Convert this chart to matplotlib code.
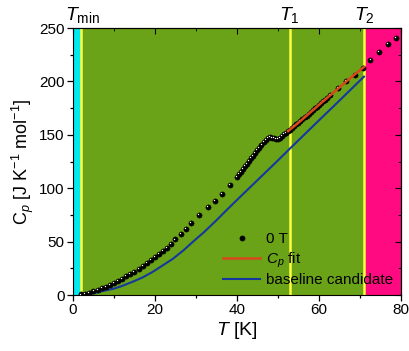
import numpy as np
import matplotlib.pyplot as plt
from matplotlib.transforms import ScaledTranslation, blended_transform_factory

plt.rcParams['font.family'] = ['Liberation Sans', 'DejaVu Sans']
plt.rcParams['mathtext.fontset'] = 'custom'
plt.rcParams['mathtext.rm'] = 'Liberation Sans'
plt.rcParams['mathtext.it'] = 'Liberation Sans:italic'

# measured heat capacity, 0 T
T_data = [2, 3, 4, 5, 6, 7, 8, 9, 10, 11, 12, 13, 14, 15, 16, 17, 18, 19, 20,
          21, 22, 23, 24, 25, 26.3, 27.6, 28.8, 30.8, 32.9, 34.6, 36.4, 38.4,
          40.0, 40.5, 41.0, 41.5, 42.0, 42.5, 43.0, 43.5, 44.0, 44.5, 45.0,
          45.5, 46.0, 46.5, 47.0, 47.5, 48.0, 48.5, 49.0, 49.5, 50.0, 50.5,
          51.0, 51.5, 52.0, 52.5, 53.0, 53.5, 54.0, 54.5, 55.0, 55.5, 56.0,
          56.5, 57.0, 57.5, 58.0, 58.5, 59.0, 59.5, 60.0, 60.5, 61.0, 61.5,
          62.0, 62.7, 64.7, 66.7, 68.7, 70.7, 72.6, 74.7, 76.8, 78.8]
Cp_data = [0.5, 1.0, 2.3, 3.5, 5.0, 6.5, 7.8, 9.8, 11.5, 13.5, 15.4, 17.5,
           19.6, 22.0, 24.3, 27.0, 29.8, 32.8, 35.5, 38.5, 41.5, 44.5, 48.0,
           52.0, 57.0, 62.0, 67.5, 74.5, 82.0, 88.0, 95.0, 103.0,
           110.5, 113.0, 115.5, 118.0, 120.5, 123.0, 125.5, 128.0, 130.5,
           133.0, 135.5, 138.0, 140.5, 143.0, 145.5, 147.0, 147.8, 147.5,
           146.8, 146.3, 146.5, 147.5, 149.0, 150.5, 152.0, 153.5, 155.0,
           156.5, 158.0, 159.7, 161.3, 163.0, 164.7, 166.3, 168.0, 169.7,
           171.3, 173.0, 174.7, 176.3, 178.0, 179.7, 181.3, 183.0, 184.7,
           187.0, 193.5, 200.0, 206.5, 213.0, 220.5, 227.8, 234.7, 241.0]

# fit between T1 and T2
T_fit = [52.5, 55, 58, 61, 64, 67, 70, 71]
Cp_fit = [153.5, 161.3, 171.3, 181.3, 191.0, 201.0, 210.5, 213.5]

# baseline candidate
T_base = [2, 4, 5, 7, 10, 12, 14.6, 17, 19.5, 22, 24.4, 27, 29.3, 32, 35,
          37.5, 40, 45, 50, 52.9, 60, 65, 71]
Cp_base = [0.2, 1.0, 1.5, 3.5, 6.0, 8.5, 12.5, 16.5, 21.8, 28.0, 34.0, 42.0,
           50.0, 59.0, 70.0, 79.6, 89.0, 107.5, 126.0, 137.0, 163.5, 182.0,
           204.5]

T_min, T1, T2 = 1.9, 52.9, 71.0
xmax, ymax = 80, 250

fig = plt.figure(figsize=(4.09, 3.51), dpi=100)
ax = fig.add_axes([0.1785, 0.1595, 0.8015, 0.7605])

ax.axvspan(0, T_min, color='#00e8f0', lw=0, zorder=0)
ax.axvspan(T_min, T2, color='#6aa317', lw=0, zorder=0)
ax.axvspan(T2, xmax, color='#ff0a80', lw=0, zorder=0)
for t in (T_min, T1, T2):
    ax.axvline(t, color='#ffff40', lw=1.8, zorder=1)

base, = ax.plot(T_base, Cp_base, color='#14389e', lw=1.5, zorder=2)
pts, = ax.plot(T_data, Cp_data, 'o', color='black', ms=3.8, mec='black',
               mew=0.3, zorder=3)
# white highlight on the spheres
shift = ScaledTranslation(-0.7 / 72, 0.7 / 72, fig.dpi_scale_trans)
ax.plot(T_data, Cp_data, 'o', color='white', ms=1.0, mew=0, zorder=4,
        transform=ax.transData + shift)
fit, = ax.plot(T_fit, Cp_fit, color='#d8481c', lw=1.8, zorder=5)

ax.set_xlim(0, xmax)
ax.set_ylim(0, ymax)
ax.set_xticks([0, 20, 40, 60, 80])
ax.set_xticks([10, 30, 50, 70], minor=True)
ax.set_yticks([0, 50, 100, 150, 200, 250])
ax.set_yticks([25, 75, 125, 175, 225], minor=True)
ax.tick_params(which='major', direction='out', length=4, width=0.9,
               labelsize=11, pad=2)
ax.tick_params(which='minor', direction='out', length=2.2, width=0.9)

top = ax.secondary_xaxis('top')
top.set_xticks([0, 20, 40, 60, 80])
top.set_xticks([10, 30, 50, 70], minor=True)
top.tick_params(which='both', direction='in', labeltop=False)
top.tick_params(which='major', length=4)
top.tick_params(which='minor', length=2.2)
right = ax.secondary_yaxis('right')
right.set_yticks([0, 50, 100, 150, 200, 250])
right.set_yticks([25, 75, 125, 175, 225], minor=True)
right.tick_params(which='both', direction='in', labelright=False)
right.tick_params(which='major', length=4)
right.tick_params(which='minor', length=2.2)

ax.set_xlabel('$T$ [K]', fontsize=14, labelpad=2)
ax.set_ylabel('C$_p$ [J K$^{-1}$ mol$^{-1}$]', fontsize=13, labelpad=2)

trans = blended_transform_factory(ax.transData, ax.transAxes)
for t, lab in ((T_min + 0.4, '$T_{\\rm min}$'), (T1, '$T_1$'), (T2, '$T_2$')):
    ax.text(t, 1.01, lab, transform=trans, ha='center', va='bottom',
            fontsize=14)

ax.legend([pts, fit, base], ['0 T', '$C_p$ fit', 'baseline candidate'],
          loc='lower right', frameon=False, fontsize=11, handlelength=2.4,
          handletextpad=0.4, labelspacing=0.25, borderaxespad=0.1)

plt.savefig('out.png', dpi=100)
